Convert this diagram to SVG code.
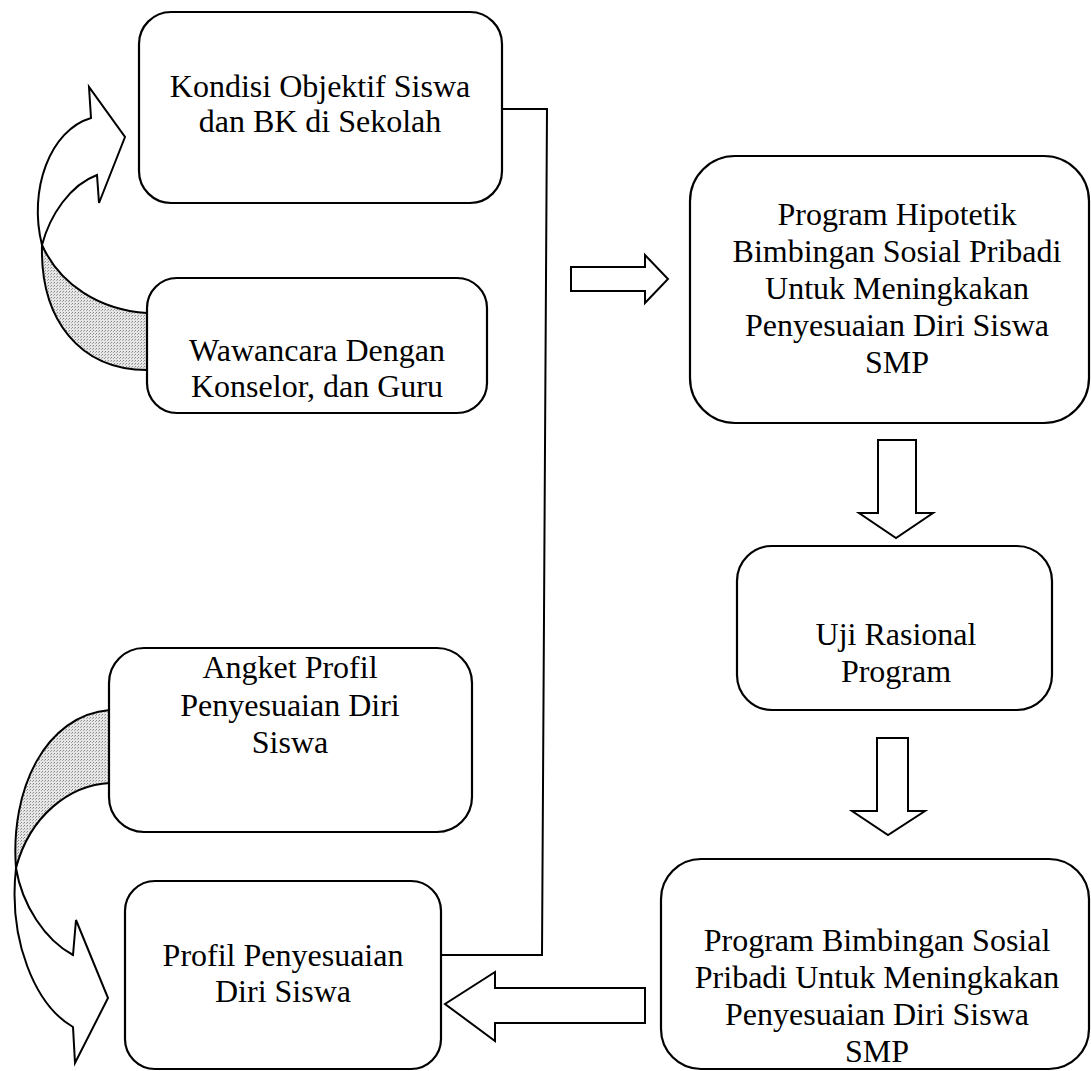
<svg xmlns="http://www.w3.org/2000/svg" width="1091" height="1071" viewBox="0 0 1091 1071">
<defs>
<pattern id="dots" width="3" height="3" patternUnits="userSpaceOnUse">
<rect width="3" height="3" fill="#e6e6e6"/>
<rect width="1" height="1" fill="#888"/>
<rect x="2" y="1" width="1" height="1" fill="#aaa"/>
</pattern>
</defs>
<style>
.box{fill:#fff;stroke:#000;stroke-width:2.2}
.arr{fill:#fff;stroke:#000;stroke-width:2;stroke-linejoin:miter}
.shade{fill:url(#dots);stroke:#000;stroke-width:2}
.conn{fill:none;stroke:#000;stroke-width:2}
text{font-family:"Liberation Serif","Times New Roman",serif;font-size:32px;fill:#000;text-anchor:middle}
</style>
<rect width="1091" height="1071" fill="#fff"/>

<g id="curved-arrow-top">
<path class="shade" d="M42,245 C60,285 100,310 147,313 L147,370 C80,370 40,320 42,245 Z"/>
<path class="arr" d="M42,245 C28,190 50,130 91,118 L89,87 L125,137 L99,203 L97,175 C70,185 50,215 42,245 Z"/>
</g>
<g id="curved-arrow-bottom">
<path class="shade" d="M110,710 C45,715 10,790 16,868 C30,815 70,785 110,783 Z"/>
<path class="arr" d="M16,868 C8,940 35,1005 73,1027 L75,1063 L108,998 L76,920 L73,955 C45,940 22,905 16,868 Z"/>
</g>

<g id="connectors">
<polyline class="conn" points="502,109 547,109 542,955 441,955"/>
<path class="arr" d="M571,267 L645,267 L645,255 L668,279 L645,303 L645,291 L571,291 Z"/>
<path class="arr" d="M878,440 L916,440 L916,513 L933,513 L896,538 L859,513 L878,513 Z"/>
<path class="arr" d="M877,738 L908,738 L908,811 L925,811 L888,835 L852,811 L877,811 Z"/>
<path class="arr" d="M645,988 L645,1023 L495,1023 L495,1041 L445,1004 L495,972 L495,988 Z"/>
</g>

<g id="node-kondisi">
<rect class="box" x="139" y="12" width="363" height="191" rx="32"/>
<text x="320" y="97">Kondisi Objektif Siswa</text>
<text x="320" y="132">dan BK di Sekolah</text>
</g>
<g id="node-wawancara">
<rect class="box" x="147" y="278" width="340" height="135" rx="30"/>
<text x="317" y="361">Wawancara Dengan</text>
<text x="317" y="397">Konselor, dan Guru</text>
</g>
<g id="node-hipotetik">
<rect class="box" x="690" y="156" width="399" height="267" rx="45"/>
<text x="897" y="225">Program Hipotetik</text>
<text x="897" y="262">Bimbingan Sosial Pribadi</text>
<text x="897" y="299">Untuk Meningkakan</text>
<text x="897" y="336">Penyesuaian Diri Siswa</text>
<text x="897" y="373">SMP</text>
</g>
<g id="node-uji">
<rect class="box" x="737" y="546" width="315" height="164" rx="35"/>
<text x="896" y="645">Uji Rasional</text>
<text x="896" y="682">Program</text>
</g>
<g id="node-angket">
<rect class="box" x="109" y="648" width="363" height="184" rx="35"/>
<text x="290" y="678">Angket Profil</text>
<text x="290" y="716">Penyesuaian Diri</text>
<text x="290" y="753">Siswa</text>
</g>
<g id="node-profil">
<rect class="box" x="125" y="881" width="316" height="188" rx="30"/>
<text x="283" y="966">Profil Penyesuaian</text>
<text x="283" y="1002">Diri Siswa</text>
</g>
<g id="node-program">
<rect class="box" x="661" y="859" width="428" height="210" rx="40"/>
<text x="877" y="951">Program Bimbingan Sosial</text>
<text x="877" y="988">Pribadi Untuk Meningkakan</text>
<text x="877" y="1025">Penyesuaian Diri Siswa</text>
<text x="877" y="1062">SMP</text>
</g>
</svg>
